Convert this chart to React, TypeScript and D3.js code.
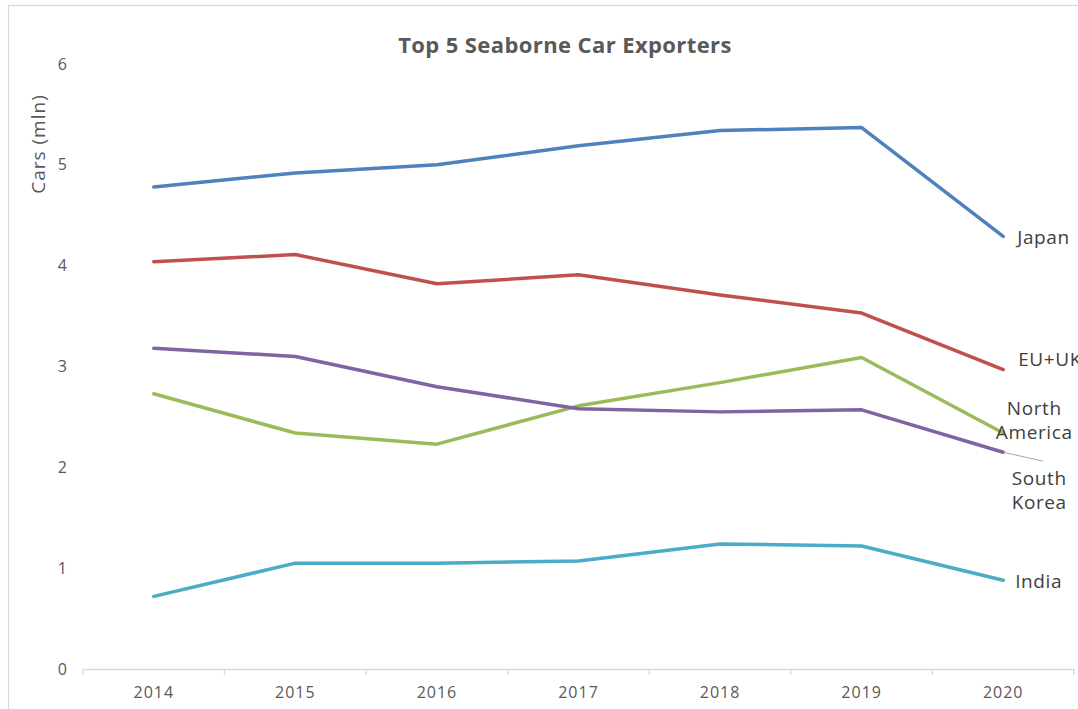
import React from "react";
import * as d3 from "d3";

const years = ["2014", "2015", "2016", "2017", "2018", "2019", "2020"];
const japan = [4.78, 4.92, 5.0, 5.19, 5.34, 5.37, 4.29];
const euUk = [4.04, 4.11, 3.82, 3.91, 3.71, 3.53, 2.97];
const southKorea = [3.18, 3.1, 2.8, 2.58, 2.55, 2.57, 2.15];
const northAmerica = [2.73, 2.34, 2.23, 2.61, 2.84, 3.09, 2.34];
const india = [0.72, 1.05, 1.05, 1.07, 1.24, 1.22, 0.88];
const yTicks = [0, 1, 2, 3, 4, 5, 6];

const series = [
  { name: "India", values: india, color: "#4BACC6" },
  { name: "North America", values: northAmerica, color: "#9BBB59" },
  { name: "South Korea", values: southKorea, color: "#8064A2" },
  { name: "EU+UK", values: euUk, color: "#C0504D" },
  { name: "Japan", values: japan, color: "#4F81BD" },
];

// label layout (style only)
const labelLayout: Record<string, { dx: number; dy: number; lines: string[]; anchor: string }> = {
  Japan: { dx: 14, dy: 8, lines: ["Japan"], anchor: "start" },
  "EU+UK": { dx: 15, dy: -4, lines: ["EU+UK"], anchor: "start" },
  "North America": { dx: 31, dy: -18, lines: ["North", "America"], anchor: "middle" },
  "South Korea": { dx: 36, dy: 33, lines: ["South", "Korea"], anchor: "middle" },
  India: { dx: 12, dy: 8, lines: ["India"], anchor: "start" },
};

const W = 1078;
const H = 709;
const left = 83;
const right = 1074;
const top = 64;
const bottom = 669;
const font = "'Open Sans', sans-serif";

export default function App() {
  const x = d3.scaleBand<string>().domain(years).range([left, right]);
  const y = d3.scaleLinear().domain([0, 6]).range([bottom, top]);
  const cx = (yr: string) => (x(yr) as number) + x.bandwidth() / 2;
  const line = d3
    .line<number>()
    .x((_, i) => cx(years[i]))
    .y((v) => y(v));

  const boundaries = years.map((yr) => x(yr) as number).concat([right]);
  const last = years[years.length - 1];

  return (
    <div style={{ position: "fixed", left: 0, top: 0, width: W, height: H, background: "#fff" }}>
      <svg width={W} height={H} style={{ display: "block" }}>
        <rect x={0} y={0} width={W} height={H} fill="#fff" />
        <rect x={8.5} y={5.5} width={1200} height={900} fill="none" stroke="#d9d9d9" strokeWidth={1.2} />
        <text
          x={565}
          y={53}
          textAnchor="middle"
          fontFamily={font}
          fontWeight="bold"
          fontSize={22}
          letterSpacing={0.4}
          fill="#595959"
        >
          Top 5 Seaborne Car Exporters
        </text>
        <text
          transform={`translate(45,${144}) rotate(-90)`}
          textAnchor="middle"
          fontFamily={font}
          fontSize={19}
          letterSpacing={1}
          fill="#595959"
        >
          Cars (mln)
        </text>
        {yTicks.map((t) => (
          <text key={t} x={67} y={y(t)} dy="0.35em" textAnchor="end" fontFamily={font} fontSize={16} fill="#595959">
            {t}
          </text>
        ))}
        <line x1={left} x2={right} y1={bottom + 0.5} y2={bottom + 0.5} stroke="#d9d9d9" strokeWidth={1.3} />
        {boundaries.map((b, i) => (
          <line key={i} x1={b} x2={b} y1={bottom} y2={bottom + 6} stroke="#d9d9d9" strokeWidth={1.3} />
        ))}
        {years.map((yr) => (
          <text
            key={yr}
            x={cx(yr)}
            y={bottom + 29}
            textAnchor="middle"
            fontFamily={font}
            fontSize={16}
            letterSpacing={1}
            fill="#595959"
          >
            {yr}
          </text>
        ))}
        {series.map((s) => (
          <path
            key={s.name}
            d={line(s.values) || ""}
            fill="none"
            stroke={s.color}
            strokeWidth={3.5}
            strokeLinejoin="round"
            strokeLinecap="round"
          />
        ))}
        {/* leader line for South Korea */}
        <line
          x1={cx(last)}
          y1={y(southKorea[6])}
          x2={cx(last) + 40}
          y2={y(southKorea[6]) + 9}
          stroke="#a6a6a6"
          strokeWidth={1}
        />
        {series.map((s) => {
          const L = labelLayout[s.name];
          const px = cx(last) + L.dx;
          const py = y(s.values[6]) + L.dy;
          return (
            <text
              key={s.name}
              x={px}
              y={py}
              textAnchor={L.anchor}
              fontFamily={font}
              fontSize={19}
              letterSpacing={0.6}
              fill="#404040"
            >
              {L.lines.map((ln, i) => (
                <tspan key={i} x={px} dy={i === 0 ? 0 : 24}>
                  {ln}
                </tspan>
              ))}
            </text>
          );
        })}
      </svg>
    </div>
  );
}
